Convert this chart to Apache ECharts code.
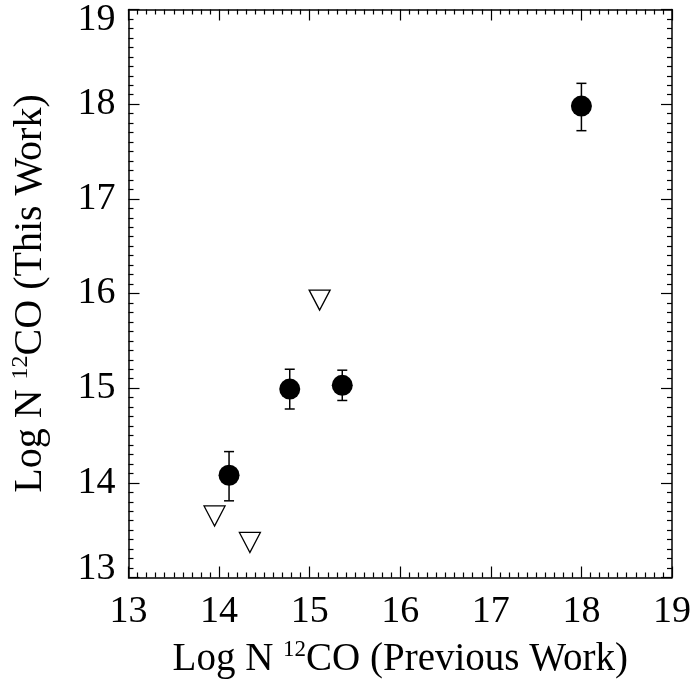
<!DOCTYPE html>
<html><head><meta charset="utf-8">
<script src="https://cdn.jsdelivr.net/npm/echarts@6/dist/echarts.min.js"></script>
<style>html,body{margin:0;padding:0;background:#fff}#c{width:695px;height:681px}</style>
</head><body><div id="c"></div>
<script>
// Detections (filled circles)
const detPrev = [14.11, 14.78, 15.36, 18.00];
const detThis = [14.08, 14.99, 15.03, 17.98];
const detErrLow = [0.27, 0.21, 0.16, 0.26];
const detErrHigh = [0.25, 0.21, 0.16, 0.24];
// Upper limits (open down-triangles)
const limPrev = [13.95, 14.34, 15.11];
const limThis = [13.65, 13.37, 15.93];
const axisMin = 13, axisMax = 19;

const F = 'Liberation Serif, Times New Roman, serif';
const chart = echarts.init(document.getElementById('c'));
const axCommon = {
  type: 'value', min: axisMin, max: axisMax, interval: 1,
  axisLine: {show: true, lineStyle: {color: '#000', width: 1.5}},
  axisTick: {show: true, inside: true, length: 11, lineStyle: {color: '#000', width: 1.2}},
  minorTick: {show: true, splitNumber: 10, length: 5, lineStyle: {color: '#000', width: 1.2}},
  splitLine: {show: false}
};
const rich = {
  n: {fontFamily: F, fontSize: 39, color: '#000'},
  s: {fontFamily: F, fontSize: 23, color: '#000', padding: [0, 0, 20, 0]}
};
const richY = {
  n: {fontFamily: F, fontSize: 40, color: '#000'},
  s: {fontFamily: F, fontSize: 24, color: '#000', padding: [0, 0, 20, 0]}
};
const yRich = {
  m: {fontFamily: F, fontSize: 38, color: '#000'},
  top: {fontFamily: F, fontSize: 38, color: '#000', padding: [22, 0, 0, 0]},
  bot: {fontFamily: F, fontSize: 38, color: '#000', padding: [0, 0, 16, 0]}
};
const detData = detPrev.map((x, i) => [x, detThis[i]]);
const errData = detPrev.map((x, i) => [x, detThis[i] - detErrLow[i], detThis[i] + detErrHigh[i]]);
const limData = limPrev.map((x, i) => [x, limThis[i]]);

chart.setOption({
  animation: false,
  grid: {left: 128.5, right: 23, top: 9.5, bottom: 103.5, containLabel: false, outerBoundsMode: 'none'},
  xAxis: [
    Object.assign({}, axCommon, {
      position: 'bottom',
      axisLabel: {fontFamily: F, fontSize: 38, color: '#000', margin: 16},
      name: '{n|Log N }{s|12}{n|CO (Previous Work)}',
      nameLocation: 'middle', nameGap: 61,
      nameTextStyle: {rich: rich}
    }),
    Object.assign({}, axCommon, {position: 'top', axisLabel: {show: false}})
  ],
  yAxis: [
    Object.assign({}, axCommon, {
      position: 'left',
      axisLabel: {
        margin: 13, rich: yRich,
        formatter: function (v) {
          if (v === axisMax) return '{top|' + v + '}';
          if (v === axisMin) return '{bot|' + v + '}';
          return '{m|' + v + '}';
        }
      },
      name: '{n|Log N }{s|12}{n|CO (This Work)}',
      nameLocation: 'middle', nameGap: 76,
      nameTextStyle: {rich: richY}
    }),
    Object.assign({}, axCommon, {position: 'right', axisLabel: {show: false}})
  ],
  series: [
    {
      type: 'custom', xAxisIndex: 0, yAxisIndex: 0, data: errData, z: 2,
      renderItem: function (params, api) {
        const x = api.value(0);
        const lo = api.coord([x, api.value(1)]);
        const hi = api.coord([x, api.value(2)]);
        const c = 5;
        const st = {stroke: '#000', lineWidth: 1.5};
        return {type: 'group', children: [
          {type: 'line', shape: {x1: lo[0], y1: lo[1], x2: hi[0], y2: hi[1]}, style: st},
          {type: 'line', shape: {x1: lo[0] - c, y1: lo[1], x2: lo[0] + c, y2: lo[1]}, style: st},
          {type: 'line', shape: {x1: hi[0] - c, y1: hi[1], x2: hi[0] + c, y2: hi[1]}, style: st}
        ]};
      }
    },
    {
      type: 'scatter', data: detData, symbol: 'circle', symbolSize: 21, z: 3,
      itemStyle: {color: '#000', opacity: 1}
    },
    {
      type: 'scatter', data: limData, symbol: 'triangle', symbolRotate: 180, symbolSize: [21, 20], z: 3,
      itemStyle: {color: '#fff', borderColor: '#000', borderWidth: 1.3, opacity: 1}
    }
  ]
});
</script></body></html>
